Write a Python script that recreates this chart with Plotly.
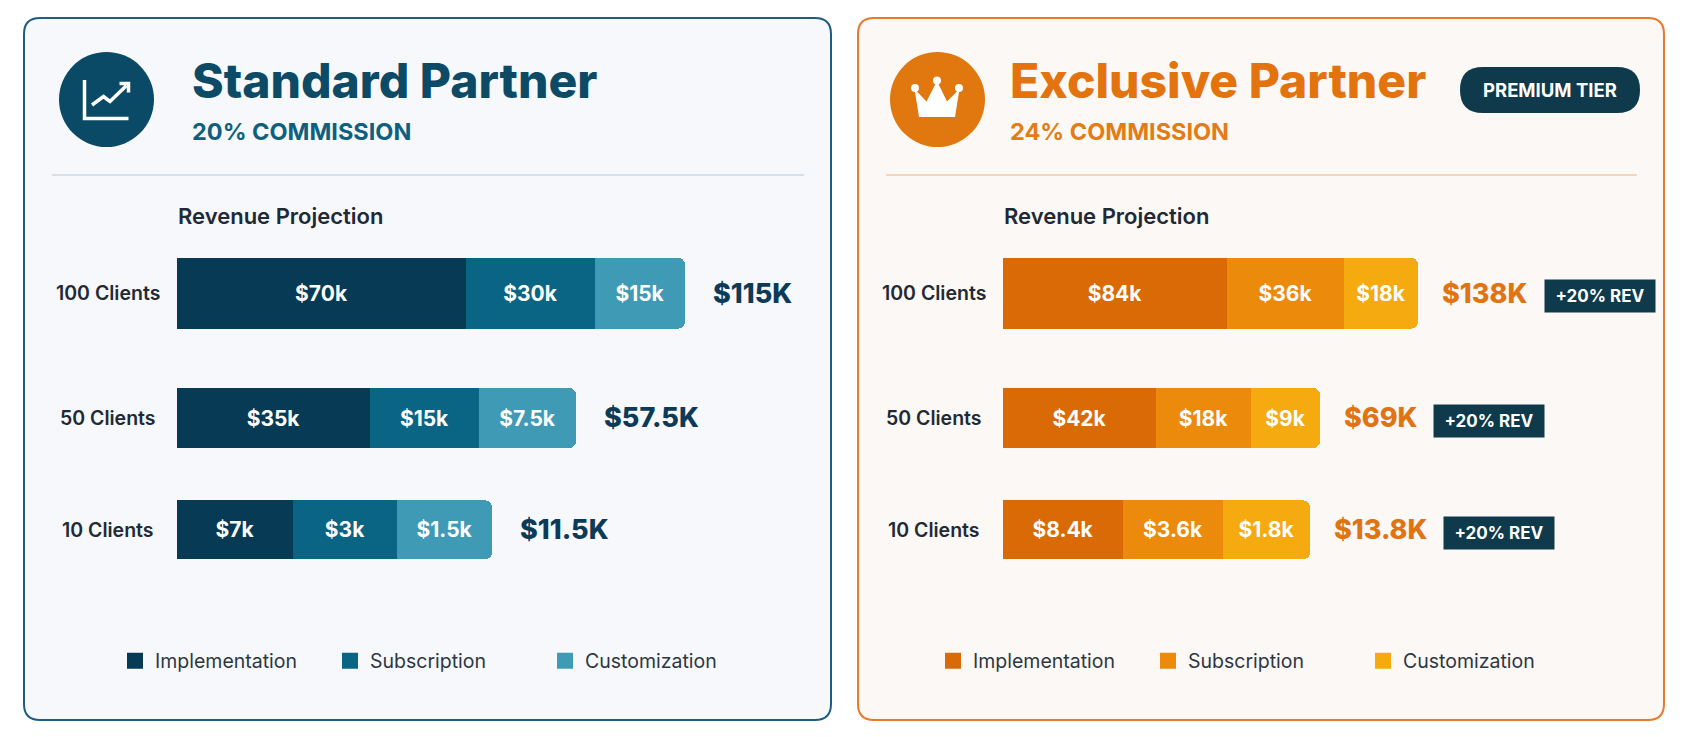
import plotly.graph_objects as go

# the page keeps the browser's 8px body margin, so the figure is drawn
# 16px smaller and all page positions below are shifted by that margin
PAGE_W, PAGE_H, PAD = 1685, 737, 8
W, H = PAGE_W - 2 * PAD, PAGE_H - 2 * PAD

clients = ["100 Clients", "50 Clients", "10 Clients"]
parts = ["Implementation", "Subscription", "Customization"]
commission = [20, 24]  # standard, exclusive (%)

# revenue per component in $k, as printed on the bars
std_impl = [70, 35, 7]
std_sub = [30, 15, 3]
std_cust = [15, 7.5, 1.5]
exc_impl = [84, 42, 8.4]
exc_sub = [36, 18, 3.6]
exc_cust = [18, 9, 1.8]

# the infographic does not draw segments to scale, so the drawn
# lengths are read off the picture on their own
std_impl_len = [289, 193, 116]
std_sub_len = [129, 109, 104]
std_cust_len = [90, 97, 95]
exc_impl_len = [224, 153, 120]
exc_sub_len = [117, 95, 100]
exc_cust_len = [74, 69, 87]

std_colors = ["#063a55", "#0a6584", "#3f9ab5"]
exc_colors = ["#d96a06", "#eb8a0b", "#f5aa10"]
bar_widths = [0.6, 0.51, 0.5]
bar_offsets = [-0.3, -0.2, -0.25]   # middle row sits a little lower
row_shift = [0, -6, 0]              # same nudge for the text beside the bars
NAVY = "#0e3a4b"
TEXT = "#1f2a35"
FONT = "Inter"


def px(x):
    return (x - PAD) / W


def py(y):
    return 1 - (y - PAD) / H


def rrect(x0, y0, x1, y1, r):
    pts = [("M", x0 + r, y0), ("L", x1 - r, y0), ("Q", x1, y0, x1, y0 + r),
           ("L", x1, y1 - r), ("Q", x1, y1, x1 - r, y1), ("L", x0 + r, y1),
           ("Q", x0, y1, x0, y1 - r), ("L", x0, y0 + r), ("Q", x0, y0, x0 + r, y0)]
    out = []
    for p in pts:
        c = p[1:]
        xy = " ".join(f"{px(c[i]):.5f},{py(c[i + 1]):.5f}" for i in range(0, len(c), 2))
        out.append(f"{p[0]} {xy}")
    return " ".join(out) + " Z"


def poly(points, close=False):
    s = " ".join(("M " if i == 0 else "L ") + f"{px(x):.5f},{py(y):.5f}"
                 for i, (x, y) in enumerate(points))
    return s + (" Z" if close else "")


def money(v, unit):
    return f"${round(v, 1):g}{unit}"


def text_w(s, size):
    # rough width of bold Inter text, used to place the uplift badge
    em = {".": 0.28, "$": 0.6, "K": 0.66, "1": 0.45}
    return sum(em.get(ch, 0.6) for ch in s) * size


fig = go.Figure()

panels = [
    ("x", "y", "legend", [std_impl, std_sub, std_cust],
     [std_impl_len, std_sub_len, std_cust_len], std_colors),
    ("x2", "y2", "legend2", [exc_impl, exc_sub, exc_cust],
     [exc_impl_len, exc_sub_len, exc_cust_len], exc_colors),
]

for xa, ya, lg, vals, lens, cols in panels:
    for name, v, ln, c in zip(parts, vals, lens, cols):
        fig.add_trace(go.Bar(
            y=clients, x=ln, orientation="h", name=name, showlegend=False,
            marker=dict(color=c, line=dict(width=0)),
            text=[money(t, "k") for t in v], textposition="inside",
            insidetextanchor="middle",
            textfont=dict(family=FONT, size=21, color="white", weight=700),
            width=bar_widths, offset=bar_offsets,
            xaxis=xa, yaxis=ya, hoverinfo="skip",
        ))
    # legend entries with bigger square swatches than bar legends allow
    for name, c in zip(parts, cols):
        fig.add_trace(go.Scatter(
            x=[None], y=[None], mode="markers", name=name, legend=lg,
            marker=dict(symbol="square", size=16, color=c, line=dict(width=0)),
            xaxis=xa, yaxis=ya, hoverinfo="skip",
        ))

# totals and uplift badges
std_tot = [a + b + c for a, b, c in zip(std_impl, std_sub, std_cust)]
exc_tot = [a + b + c for a, b, c in zip(exc_impl, exc_sub, exc_cust)]
std_end = [a + b + c for a, b, c in zip(std_impl_len, std_sub_len, std_cust_len)]
exc_end = [a + b + c for a, b, c in zip(exc_impl_len, exc_sub_len, exc_cust_len)]
uplift = f"+{round((commission[1] / commission[0] - 1) * 100)}% REV"

annotations = []
# row labels, centred left of each bar
for xa, ya in [("x", "y"), ("x2", "y2")]:
    for cl, ys in zip(clients, row_shift):
        annotations.append(dict(x=0, y=cl, xref=xa, yref=ya, xanchor="center",
                                xshift=-69, yshift=ys, text=cl, showarrow=False,
                                font=dict(family=FONT, size=19.5, color=TEXT, weight=600)))

for cl, t, e, ys in zip(clients, std_tot, std_end, row_shift):
    annotations.append(dict(x=e, y=cl, xref="x", yref="y", xanchor="left", xshift=26,
                            yshift=ys, text=money(t, "K"), showarrow=False,
                            font=dict(family=FONT, size=27, color="#0d3b57", weight=800)))
for cl, t, e, ys in zip(clients, exc_tot, exc_end, row_shift):
    lab = money(t, "K")
    annotations.append(dict(x=e, y=cl, xref="x2", yref="y2", xanchor="left", xshift=22,
                            yshift=ys, text=lab, showarrow=False,
                            font=dict(family=FONT, size=27, color="#e07412", weight=800)))
    annotations.append(dict(x=e, y=cl, xref="x2", yref="y2", xanchor="left",
                            xshift=22 + text_w(lab, 27) + 25, yshift=ys - 3,
                            text=uplift, showarrow=False, bgcolor=NAVY,
                            width=100, height=22, borderpad=5,
                            font=dict(family=FONT, size=17, color="white", weight=700)))

headers = [
    (190, "Standard Partner", f"{commission[0]}% COMMISSION", "#0c4a66", "#0f5f7f", 176),
    (1008, "Exclusive Partner", f"{commission[1]}% COMMISSION", "#e2730f", "#e37c14", 1002),
]
for x0, title, sub, c1, c2, rx in headers:
    annotations.append(dict(x=px(x0), y=py(81), xref="paper", yref="paper",
                            xanchor="left", yanchor="middle", showarrow=False, text=title,
                            font=dict(family=FONT, size=48, color=c1, weight=800)))
    annotations.append(dict(x=px(x0), y=py(131), xref="paper", yref="paper",
                            xanchor="left", yanchor="middle", showarrow=False, text=sub,
                            font=dict(family=FONT, size=23.5, color=c2, weight=700)))
    annotations.append(dict(x=px(rx), y=py(216), xref="paper", yref="paper",
                            xanchor="left", yanchor="middle", showarrow=False,
                            text="Revenue Projection",
                            font=dict(family=FONT, size=22, color=TEXT, weight=600)))

annotations.append(dict(x=px(1550), y=py(90), xref="paper", yref="paper",
                        xanchor="center", yanchor="middle", showarrow=False,
                        text="PREMIUM TIER",
                        font=dict(family=FONT, size=18.5, color="white", weight=700)))

shapes = [
    dict(type="path", path=rrect(24, 18, 831, 720, 16), xref="paper", yref="paper",
         fillcolor="#f6f8fb", line=dict(color="#1d5d83", width=2), layer="below"),
    dict(type="path", path=rrect(858, 18, 1664, 720, 16), xref="paper", yref="paper",
         fillcolor="#fcf8f5", line=dict(color="#e87a2c", width=2), layer="below"),
    dict(type="line", x0=px(52), x1=px(804), y0=py(175), y1=py(175), xref="paper",
         yref="paper", line=dict(color="#cbd8e4", width=1.5), layer="below"),
    dict(type="line", x0=px(886), x1=px(1637), y0=py(175), y1=py(175), xref="paper",
         yref="paper", line=dict(color="#f3cba8", width=1.5), layer="below"),
    # icon circles
    dict(type="circle", x0=px(59), x1=px(154), y0=py(52), y1=py(147), xref="paper",
         yref="paper", fillcolor="#0b4a66", line=dict(width=0)),
    dict(type="circle", x0=px(890), x1=px(985), y0=py(52), y1=py(147), xref="paper",
         yref="paper", fillcolor="#e0770f", line=dict(width=0)),
    # chart icon
    dict(type="path", path=poly([(84.5, 80), (84.5, 118.5), (128.5, 118.5)]),
         xref="paper", yref="paper", line=dict(color="white", width=3.5)),
    dict(type="path", path=poly([(92, 105), (103.5, 96.5), (110, 101.5), (126.5, 85.5)]),
         xref="paper", yref="paper", line=dict(color="white", width=3.5)),
    dict(type="path", path=poly([(119.5, 83.5), (128.5, 83.5), (128.5, 92.5)]),
         xref="paper", yref="paper", line=dict(color="white", width=3.5)),
    # crown icon
    dict(type="path", path=poly([(919, 117), (914.5, 89), (926.5, 101.5), (937, 81),
                                 (947, 101.5), (959.5, 89), (955, 117)], close=True),
         xref="paper", yref="paper", fillcolor="white", line=dict(width=0)),
    # premium pill
    dict(type="path", path=rrect(1460, 67, 1640, 113, 23), xref="paper", yref="paper",
         fillcolor=NAVY, line=dict(width=0)),
]
for cx, cy in [(915, 88), (937, 80.5), (959, 88)]:
    shapes.append(dict(type="circle", x0=px(cx - 4), x1=px(cx + 4), y0=py(cy - 4),
                       y1=py(cy + 4), xref="paper", yref="paper",
                       fillcolor="white", line=dict(width=0)))

yax = dict(categoryorder="array", categoryarray=clients, autorange="reversed",
           domain=[py(589), py(234)], showgrid=False, zeroline=False, showline=False,
           ticks="", showticklabels=False)
legend_style = dict(orientation="h", yanchor="middle", y=py(661), xanchor="left",
                    traceorder="normal", bgcolor="rgba(0,0,0,0)",
                    entrywidth=170, entrywidthmode="pixels",
                    font=dict(family=FONT, size=19.5, color="#2d3742"))

fig.update_layout(
    width=W, height=H, margin=dict(l=0, r=0, t=0, b=0),
    paper_bgcolor="white", plot_bgcolor="rgba(0,0,0,0)",
    barmode="stack", barcornerradius=7,
    xaxis=dict(domain=[px(177), px(804)], range=[0, 627], visible=False, fixedrange=True),
    xaxis2=dict(domain=[px(1003), px(1637)], range=[0, 634], visible=False, fixedrange=True),
    yaxis=dict(anchor="x", **yax),
    yaxis2=dict(anchor="x2", **yax),
    legend=dict(x=px(115), **legend_style),
    legend2=dict(x=px(933), **legend_style),
    annotations=annotations,
    shapes=shapes,
    showlegend=True,
)

fig.write_html("out.html")
